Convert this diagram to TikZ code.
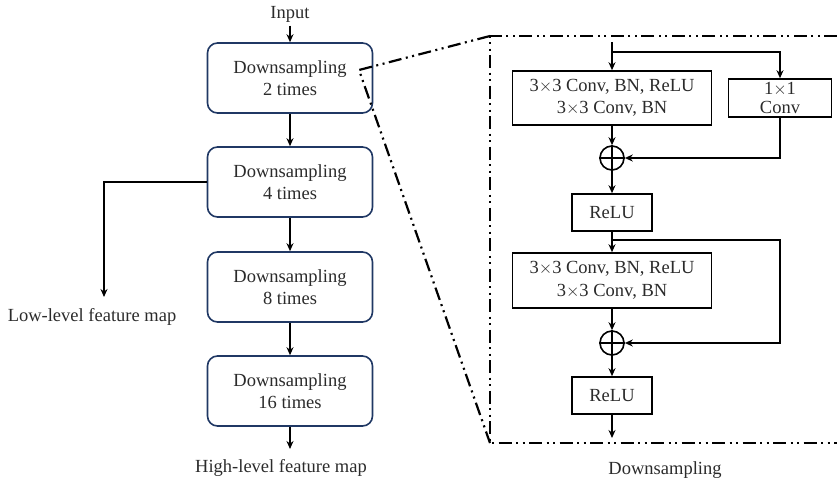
\documentclass[tikz,border=0pt]{standalone}
\usepackage{fontspec}
\setmainfont{Liberation Serif}
\usetikzlibrary{arrows.meta}
\definecolor{navy}{HTML}{203864}
\definecolor{textgrey}{HTML}{2B2B2B}
\begin{document}
\begin{tikzpicture}[x=1pt,y=-1pt,
  txt/.style={text=textgrey, font=\fontsize{18.5}{22.5}\selectfont, align=center},
  stage/.style={txt, draw=navy, line width=1.6pt, rounded corners=10pt,
    minimum width=165pt, minimum height=70pt, inner sep=0pt},
  blk/.style={txt, draw=black, line width=1.6pt, inner sep=0pt},
  flow/.style={line width=2pt, -{Stealth[length=8pt,width=7pt]}},
  zoomline/.style={line width=2.2pt,
    dash pattern=on 13pt off 4.5pt on 2pt off 4.5pt on 2pt off 4.5pt},
  sum/.style={circle, draw, line width=1.6pt, minimum size=24pt, inner sep=0pt}
]
\useasboundingbox (0,0) rectangle (837,482);

% ---- encoder column ----
\node[txt] (input) at (290,14) {Input};
\node[stage] (b1) at (290,78) {Downsampling\\2 times};
\node[stage] (b2) at (290,182) {Downsampling\\4 times};
\node[stage] (b3) at (290,287) {Downsampling\\8 times};
\node[stage] (b4) at (290,391) {Downsampling\\16 times};
\node[txt] (low) at (92,317) {Low-level feature map};
\node[txt] (high) at (281,468) {High-level feature map};
\coordinate (lowend) at (104,297);
\coordinate (highend) at (290,449);

\draw[flow] (input.south) -- (b1.north);
\draw[flow] (b1.south) -- (b2.north);
\draw[flow] (b2.south) -- (b3.north);
\draw[flow] (b3.south) -- (b4.north);
\draw[flow] (b4.south) -- (highend);
\draw[flow] (b2.west) -| (lowend);

% ---- zoomed frame ----
\coordinate (zc) at (359,70);
\coordinate (frametl) at (490,36);
\coordinate (framebl) at (490,443);
\coordinate (frametr) at (837,36);
\coordinate (framebr) at (837,443);
\draw[zoomline] (frametl) -- (zc) -- (framebl);
\draw[zoomline] (frametr) -- (frametl) -- (framebl) -- (framebr);

% ---- residual blocks ----
\node[blk, minimum width=199pt, minimum height=54pt] (a) at (612,98)
  {3$\times$3 Conv, BN, ReLU\\3$\times$3 Conv, BN};
\node[blk, minimum width=103pt, minimum height=38pt] (c11) at (780,98)
  {1$\times$1\\[-3pt]Conv};
\node[sum] (s1) at (612,158) {};
\node[blk, minimum width=80pt, minimum height=37pt] (r1) at (612,212.5) {ReLU};
\node[blk, minimum width=199pt, minimum height=55pt] (b) at (612,280.5)
  {3$\times$3 Conv, BN, ReLU\\3$\times$3 Conv, BN};
\node[sum] (s2) at (612,343) {};
\node[blk, minimum width=80pt, minimum height=37pt] (r2) at (612,395.5) {ReLU};
\node[txt] (dlabel) at (665,470) {Downsampling};

\foreach \s in {s1,s2}{
  \draw[line width=1.6pt] (\s.north) -- (\s.south) (\s.west) -- (\s.east);
}

\coordinate (tin) at (612,42);
\coordinate (br1) at (612,52);
\coordinate (br2) at (612,240);
\coordinate (k2) at (780,240);
\coordinate (tout) at (612,438);

\draw[flow] (tin) -- (a.north);
\draw[flow] (br1) -| (c11.north);
\draw[flow] (a.south) -- (s1.north);
\draw[flow] (c11.south) |- (s1.east);
\draw[flow] (s1.south) -- (r1.north);
\draw[flow] (r1.south) -- (b.north);
\draw[flow] (br2) -- (k2) |- (s2.east);
\draw[flow] (b.south) -- (s2.north);
\draw[flow] (s2.south) -- (r2.north);
\draw[flow] (r2.south) -- (tout);
\end{tikzpicture}
\end{document}
